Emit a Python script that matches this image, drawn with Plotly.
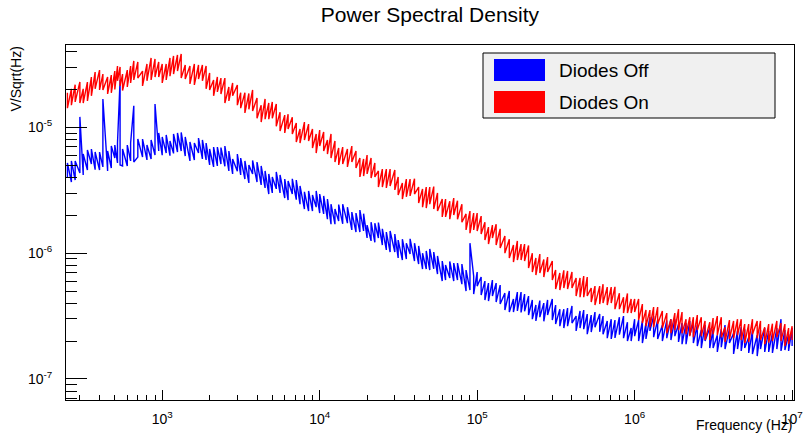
import plotly.graph_objects as go

# Frequency bins (Hz)
freq_hz = [
    250, 265, 280, 300, 315, 335, 355, 375, 400, 420, 450, 475, 500, 520, 540, 560, 600, 630, 660, 700, 750, 800, 850, 900, 950,
    1000, 1060, 1120, 1180, 1250, 1320, 1400, 1500, 1600, 1700, 1800, 1900, 2000, 2120, 2240, 2360, 2500, 2650, 2800, 3000,
    3150, 3350, 3550, 3750, 4000, 4250, 4500, 4750, 5000, 5300, 5600, 6000, 6300, 6700, 7100, 7500, 8000, 8500, 9000, 9500,
    10000, 10600, 11200, 11800, 12500, 13200, 14000, 15000, 16000, 17000, 18000, 19000, 20000, 21200, 22400, 23600, 25000,
    26500, 28000, 30000, 31500, 33500, 35500, 37500, 40000, 42500, 45000, 47500, 50000, 53000, 56000, 60000, 63000, 67000,
    71000, 75000, 80000, 85000, 90000, 95000,
    100000, 106000, 112000, 118000, 125000, 132000, 140000, 150000, 160000, 170000, 180000, 190000, 200000, 212000, 224000,
    236000, 250000, 265000, 280000, 300000, 315000, 335000, 355000, 375000, 400000, 425000, 450000, 475000, 500000, 530000,
    560000, 600000, 630000, 670000, 710000, 750000, 800000, 850000, 900000, 950000,
    1000000, 1060000, 1120000, 1180000, 1250000, 1320000, 1400000, 1500000, 1600000, 1700000, 1800000, 1900000, 2000000,
    2120000, 2240000, 2360000, 2500000, 2650000, 2800000, 3000000, 3150000, 3350000, 3550000, 3750000, 4000000, 4250000,
    4500000, 4750000, 5000000, 5300000, 5600000, 6000000, 6300000, 6700000, 7100000, 7500000, 8000000, 8500000, 9000000,
    9500000, 10000000,
]

# Diodes Off, in microvolts / sqrt(Hz): first and second reading of each bin
diodes_off_a_uv = [
    4.03, 5.40, 3.81, 12.1, 4.18, 6.60, 5.11, 6.36, 4.58, 16.8, 4.50, 7.10, 5.70, 7.50, 23.8, 6.72, 4.93, 7.50, 14.8, 8.07,
    5.80, 7.23, 5.60, 15.3, 6.48,
    8.38, 6.24, 7.79, 6.2, 9.02, 6.48, 8.38, 5.40, 7.50, 6.24, 7.93, 5.50, 6.72, 4.84, 6.97, 5.11, 7.10, 4.50, 5.60, 4.48,
    5.70, 3.88, 5.02, 4.26, 5.30, 3.48, 4.50, 2.95, 4.03, 3.24, 4.18, 2.74, 3.74, 2.95, 3.81, 2.45, 3.07, 2.16, 2.90, 2.32,
    2.95, 2.05, 2.69, 1.70, 2.24, 1.80, 2.45, 1.73, 2.12, 1.47, 2.20, 1.50, 1.67, 1.25, 1.73, 1.32, 1.56, 1.06, 1.50, 1.02,
    1.27, 0.881, 1.20, 0.983, 1.20, 0.818, 1.00, 0.747, 1.08, 0.75, 0.949, 0.600, 0.804, 0.635, 0.834, 0.611, 0.818, 0.500,
    1.20, 0.658,
    0.547, 0.646, 0.424, 0.578, 0.456, 0.578, 0.394, 0.481, 0.340, 0.432, 0.347, 0.491, 0.345, 0.456, 0.299, 0.387, 0.310,
    0.401, 0.322, 0.432, 0.273, 0.359, 0.254, 0.366, 0.278, 0.316, 0.254, 0.353, 0.227, 0.322, 0.258, 0.328, 0.227, 0.289,
    0.208, 0.294, 0.225, 0.316, 0.200, 0.254,
    0.219, 0.294, 0.193, 0.278, 0.241, 0.316, 0.208, 0.268, 0.211, 0.299, 0.219, 0.273, 0.189, 0.278, 0.223, 0.280, 0.183,
    0.245, 0.200, 0.254, 0.176, 0.223, 0.179, 0.268, 0.193, 0.231, 0.173, 0.258, 0.176, 0.215, 0.158, 0.223, 0.173, 0.254,
    0.164, 0.231, 0.173, 0.299, 0.170, 0.227, 0.183,
]
diodes_off_b_uv = [
    5.21, 3.67, 5.40, 4.33, 6.13, 4.58, 6.72, 4.6, 6.36, 4.84, 6.48, 4.75, 7.23, 5.21, 5.02, 4.93, 7.23, 5.40, 5.30, 5.80,
    8.07, 5.50, 7.93, 6.02, 9.02,
    6.0, 8.69, 5.95, 8.85, 6.36, 9.1, 5.91, 7.64, 5.50, 8.22, 5.60, 7.50, 5.02, 6.97, 4.93, 6.9, 4.9, 6.48, 4.26, 6.13,
    4.18, 5.40, 3.61, 5.45, 3.67, 4.93, 3.30, 4.26, 3.01, 4.42, 3.01, 3.88, 2.64, 3.9, 2.66, 3.42, 2.24, 3.12, 2.16, 3.12,
    2.08, 2.85, 1.86, 2.45, 1.70, 2.43, 1.71, 2.32, 1.53, 2.08, 1.47, 2.06, 1.32, 1.76, 1.22, 1.75, 1.16, 1.47, 1.02, 1.42,
    0.915, 1.29, 0.897, 1.30, 0.865, 1.14, 0.747, 1.04, 0.734, 1.02, 0.682, 0.865, 0.611, 0.86, 0.600, 0.834, 0.567, 0.734,
    0.509, 0.473,
    0.708, 0.464, 0.600, 0.416, 0.611, 0.409, 0.557, 0.353, 0.500, 0.340, 0.491, 0.338, 0.473, 0.322, 0.424, 0.289, 0.42,
    0.287, 0.425, 0.294, 0.387, 0.263, 0.359, 0.263, 0.380, 0.241, 0.347, 0.249, 0.328, 0.236, 0.340, 0.237, 0.316, 0.211,
    0.299, 0.212, 0.310, 0.211, 0.283, 0.200,
    0.299, 0.200, 0.289, 0.208, 0.310, 0.215, 0.294, 0.200, 0.292, 0.204, 0.299, 0.197, 0.278, 0.189, 0.289, 0.193, 0.268,
    0.176, 0.268, 0.176, 0.249, 0.164, 0.249, 0.173, 0.25, 0.158, 0.241, 0.167, 0.249, 0.161, 0.241, 0.152, 0.245, 0.164,
    0.241, 0.161, 0.254, 0.167, 0.245, 0.167, 0.254,
]

# Diodes On, in microvolts / sqrt(Hz): first and second reading of each bin
diodes_on_a_uv = [
    18.8, 15.0, 21.8, 15.6, 20.2, 16.2, 25.1, 20.2, 28.5, 19.8, 25.1, 18.8, 28.0, 23.4, 30.2, 19.6, 28.5, 22.5, 33.7, 24.6,
    28.0, 23.4, 35.6, 25.1, 33.1,
    22.5, 31.9, 25.5, 36.9, 28.0, 38.3, 24.2, 30.7, 21.7, 31.3, 23.4, 30.7, 19.8, 23.8, 19.1, 24.6, 15.6, 20.9, 17.8, 21.7,
    14.2, 18.8, 13.9, 19.8, 11.8, 15.0, 11.6, 15.6, 11.8, 15.3, 9.35, 12.5, 9.69, 12.0, 7.64, 9.69, 7.93, 10.6, 6.85, 8.85,
    7.10, 9.18, 6.13, 8.85, 5.30, 6.85, 5.11, 6.72, 5.30, 6.48, 4.03, 5.60, 4.26, 5.70, 4.03, 4.50, 3.35, 4.66, 3.42, 4.58,
    2.90, 3.61, 2.80, 3.88, 2.95, 3.35, 2.32, 3.35, 2.45, 3.38, 2.16, 2.69, 1.94, 2.59, 2.01, 2.61, 1.76, 2.05, 1.44, 2.08,
    1.50, 1.97, 1.27, 1.61, 1.32, 1.70, 1.10, 1.37, 0.915, 1.16, 0.881, 1.18, 0.865, 1.15, 0.708, 0.915, 0.695, 0.89, 0.708,
    0.865, 0.518, 0.695, 0.528, 0.721, 0.528, 0.635, 0.447, 0.658, 0.456, 0.528, 0.387, 0.547, 0.401, 0.537, 0.401, 0.54,
    0.359, 0.447, 0.334, 0.432,
    0.340, 0.432, 0.278, 0.353, 0.258, 0.373, 0.273, 0.347, 0.231, 0.299, 0.245, 0.359, 0.231, 0.299, 0.219, 0.310, 0.245,
    0.310, 0.204, 0.283, 0.227, 0.316, 0.215, 0.258, 0.208, 0.289, 0.223, 0.299, 0.193, 0.273, 0.227, 0.289, 0.204, 0.258,
    0.195, 0.275, 0.215, 0.278, 0.183, 0.254, 0.204,
]
diodes_on_b_uv = [
    14.2, 20.2, 15.9, 22.9, 15.6, 22.9, 17.8, 27.5, 19.8, 26.5, 18.4, 26.0, 20.0, 30.7, 21.3, 26.5, 20.9, 30.7, 23.8, 33.1,
    21.3, 31.9, 23.8, 34.9, 25.1,
    31.9, 23.8, 35.6, 26.5, 37.6, 24.6, 31.3, 22.1, 31.9, 24.2, 31.3, 20.2, 27.0, 17.8, 25.1, 18.4, 24.6, 16.2, 22.5, 15.0,
    18.8, 13.0, 18.6, 13.5, 17.1, 11.0, 16.8, 11.6, 15.9, 10.2, 13.2, 9.02, 12.7, 8.85, 10.8, 7.50, 11.0, 7.79, 9.69, 6.24,
    9.52, 6.48, 7.93, 5.70, 7.79, 5.02, 6.97, 4.84, 7.10, 4.75, 5.70, 4.10, 6.02, 3.95, 5.21, 3.35, 4.66, 3.30, 4.66, 3.18,
    4.03, 2.69, 3.88, 2.85, 3.90, 2.50, 3.24, 2.28, 3.35, 2.24, 3.01, 1.94, 2.69, 1.86, 2.74, 1.86, 2.45, 1.53, 2.16, 1.53,
    2.08, 1.42, 1.76, 1.18, 1.67, 1.16, 1.56, 1.00, 1.29, 0.849, 1.25, 0.881, 1.18, 0.761, 1.00, 0.670, 0.983, 0.646, 0.931,
    0.611, 0.734, 0.509, 0.73, 0.518, 0.708, 0.456, 0.635, 0.447, 0.646, 0.409, 0.547, 0.394, 0.567, 0.387, 0.537, 0.359,
    0.481, 0.334, 0.478, 0.334,
    0.432, 0.294, 0.394, 0.263, 0.353, 0.258, 0.373, 0.254, 0.334, 0.231, 0.334, 0.245, 0.340, 0.227, 0.310, 0.215, 0.322,
    0.219, 0.289, 0.204, 0.305, 0.223, 0.310, 0.197, 0.294, 0.211, 0.299, 0.204, 0.273, 0.197, 0.299, 0.211, 0.289, 0.189,
    0.273, 0.200, 0.289, 0.200, 0.273, 0.189, 0.263,
]

series_names = ["Diodes Off", "Diodes On"]
series_colors = ["#0000ff", "#ff0000"]

y_tick_vals = [1e-7, 1e-6, 1e-5]
y_tick_text = ["10<sup>-7</sup>", "10<sup>-6</sup>", "10<sup>-5</sup>"]
x_tick_vals = [1e3, 1e4, 1e5, 1e6, 1e7]
x_tick_text = ["10<sup>3</sup>", "10<sup>4</sup>", "10<sup>5</sup>", "10<sup>6</sup>", "10<sup>7</sup>"]

UV = 1e-6
FONT = "Liberation Sans, Arial, Helvetica, sans-serif"

fig = go.Figure()
series_data = [(diodes_off_a_uv, diodes_off_b_uv), (diodes_on_a_uv, diodes_on_b_uv)]
for name, color, (va, vb) in zip(series_names, series_colors, series_data):
    xs, ys = [], []
    for k, (f, a, b) in enumerate(zip(freq_hz, va, vb)):
        pair = (a, b) if k % 2 == 0 else (b, a)
        xs += [f, f]
        ys += [pair[0] * UV, pair[1] * UV]
    fig.add_trace(go.Scatter(
        x=xs, y=ys, mode="lines", name=name,
        line=dict(color=color, width=1.4), showlegend=False,
    ))

W, H = 808, 436
L, R, T, B = 66, 14, 45, 36
pw, ph = W - L - R, H - T - B

fig.update_layout(
    width=W, height=H,
    margin=dict(l=L, r=R, t=T, b=B, pad=0, autoexpand=False),
    paper_bgcolor="white", plot_bgcolor="white",
    font=dict(family=FONT, color="black", size=14),
    title=dict(text="Power Spectral Density", x=0.5, xref="paper", xanchor="center",
               y=1 - 15 / H, yanchor="middle", font=dict(size=21, family=FONT, color="black")),
    xaxis=dict(type="log", range=[2.389, 7.012], showgrid=False, zeroline=False, automargin=False,
               showline=True, mirror=True, linecolor="black", linewidth=1,
               ticks="inside", ticklen=10, tickcolor="black", tickwidth=1,
               tickmode="array", tickvals=x_tick_vals, ticktext=x_tick_text,
               ticklabelstandoff=6,
               tickfont=dict(size=14, family=FONT, color="black"),
               minor=dict(ticks="inside", ticklen=5, tickcolor="black", dtick="D1", showgrid=False)),
    yaxis=dict(type="log", range=[-7.167, -4.346], showgrid=False, zeroline=False, automargin=False,
               showline=True, mirror=True, linecolor="black", linewidth=1,
               ticks="inside", ticklen=21, tickcolor="black", tickwidth=1,
               tickmode="array", tickvals=y_tick_vals, ticktext=y_tick_text,
               ticklabelstandoff=10,
               tickfont=dict(size=14, family=FONT, color="black"),
               minor=dict(ticks="inside", ticklen=11, tickcolor="black", dtick="D1", showgrid=False)),
)

# Axis titles (ROOT style: right/top aligned)
fig.add_annotation(text="Frequency (Hz)", xref="paper", yref="paper", x=1.0, y=-25 / ph,
                   xanchor="right", yanchor="middle", showarrow=False,
                   font=dict(size=14, family=FONT, color="black"))
fig.add_annotation(text="V/Sqrt(Hz)", xref="paper", yref="paper", x=(15 - L) / pw, y=1.0,
                   xanchor="center", yanchor="top", textangle=-90, showarrow=False,
                   font=dict(size=14, family=FONT, color="black"))

# Legend box (ROOT TLegend style)
def px_x(p):
    return (p - L) / pw

def px_y(p):
    return (H - B - p) / ph

fig.add_shape(type="rect", xref="paper", yref="paper",
              x0=px_x(483), x1=px_x(775), y0=px_y(118), y1=px_y(53),
              fillcolor="#f0f0f0", line=dict(color="black", width=1), layer="above")
for i, (name, color) in enumerate(zip(series_names, series_colors)):
    top = 59 + 32 * i
    fig.add_shape(type="rect", xref="paper", yref="paper",
                  x0=px_x(494), x1=px_x(545), y0=px_y(top + 22), y1=px_y(top),
                  fillcolor=color, line=dict(color=color, width=0), layer="above")
    fig.add_annotation(text=name, xref="paper", yref="paper", x=px_x(557), y=px_y(top + 11),
                       xanchor="left", yanchor="middle", showarrow=False,
                       font=dict(size=19, family=FONT, color="black"))

fig.write_html("out.html", config={"displayModeBar": False},
               post_script="document.body.style.margin='0';")
